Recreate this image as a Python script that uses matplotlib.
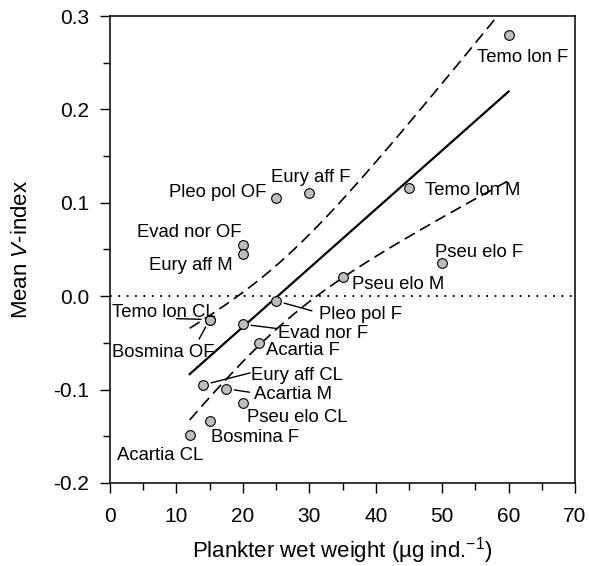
import numpy as np
import matplotlib
matplotlib.use("Agg")
import matplotlib.pyplot as plt
from matplotlib.ticker import MultipleLocator, FormatStrFormatter

plt.rcParams['font.family'] = ['Liberation Sans', 'DejaVu Sans']
plt.rcParams['mathtext.fontset'] = 'custom'
plt.rcParams['mathtext.rm'] = 'Liberation Sans'
plt.rcParams['mathtext.it'] = 'Liberation Sans:italic'
plt.rcParams['axes.unicode_minus'] = False

# ---- data ----
names = ["Temo lon F", "Temo lon M", "Eury aff F", "Pleo pol OF", "Evad nor OF",
         "Eury aff M", "Pseu elo F", "Pseu elo M", "Temo lon CL", "Bosmina OF",
         "Pleo pol F", "Evad nor F", "Acartia F", "Eury aff CL", "Acartia M",
         "Pseu elo CL", "Bosmina F", "Acartia CL"]
weight = [60, 45, 30, 25, 20, 20, 50, 35, 15, 15, 25, 20, 22.5, 14, 17.5, 20, 15, 12]
vindex = [0.280, 0.116, 0.111, 0.105, 0.055, 0.045, 0.036, 0.021, -0.025, -0.025,
          -0.005, -0.030, -0.050, -0.095, -0.099, -0.114, -0.134, -0.149]

xticks = [0, 10, 20, 30, 40, 50, 60, 70]
yticks = [-0.2, -0.1, 0.0, 0.1, 0.2, 0.3]
T_CRIT = 2.120  # Student t, 95 %, df = n - 2 = 16

# ---- label layout: text x, text y, ha, leader start (or None) ----
layout = {
    "Temo lon F":  (55.2, 0.258, 'left', None),
    "Temo lon M":  (47.4, 0.1153, 'left', None),
    "Eury aff F":  (30.2, 0.1296, 'center', None),
    "Pleo pol OF": (23.6, 0.1128, 'right', None),
    "Evad nor OF": (19.8, 0.0707, 'right', None),
    "Eury aff M":  (18.5, 0.035, 'right', None),
    "Pseu elo F":  (48.9, 0.049, 'left', None),
    "Pseu elo M":  (36.4, 0.0143, 'left', None),
    "Temo lon CL": (0.25, -0.015, 'left', (10.0, -0.024)),
    "Bosmina OF":  (0.25, -0.058, 'left', (13.4, -0.046)),
    "Pleo pol F":  (31.4, -0.0175, 'left', (30.4, -0.0157)),
    "Evad nor F":  (25.3, -0.0375, 'left', (25.1, -0.0346)),
    "Acartia F":   (23.5, -0.056, 'left', None),
    "Eury aff CL": (21.2, -0.0828, 'left', (21.1, -0.0821)),
    "Acartia M":   (21.7, -0.1035, 'left', (21.0, -0.1028)),
    "Pseu elo CL": (20.6, -0.128, 'left', None),
    "Bosmina F":   (15.2, -0.149, 'left', None),
    "Acartia CL":  (1.0, -0.168, 'left', None),
}

x = np.array(weight, dtype=float)
y = np.array(vindex, dtype=float)

fig = plt.figure(figsize=(5.89, 5.66), dpi=100)
ax = fig.add_axes([110/589, 1-483/566, 465/589, 467/566])

# regression and 95 % confidence band of the mean
slope, intercept = np.polyfit(x, y, 1)
n = len(x)
resid = y - (slope*x + intercept)
s = np.sqrt(np.sum(resid**2)/(n-2))
sxx = np.sum((x - x.mean())**2)
xs = np.linspace(x.min(), x.max(), 200)
yc = slope*xs + intercept
hw = T_CRIT*s*np.sqrt(1.0/n + (xs - x.mean())**2/sxx)

ax.axhline(0, color='black', lw=1.4, dashes=(0.9, 3.4), zorder=1)
ax.plot(xs, yc, color='black', lw=1.6, zorder=2)
ax.plot(xs, yc + hw, color='black', lw=1.2, dashes=(7, 3.6), zorder=2)
ax.plot(xs, yc - hw, color='black', lw=1.2, dashes=(7, 3.6), zorder=2)

ax.plot(x, y, 'o', ms=7, mfc='#bdbdbd', mec='black', mew=0.8, zorder=4)

for nm, px, py in zip(names, weight, vindex):
    tx, ty, ha, lead = layout[nm]
    ax.text(tx, ty, nm, ha=ha, va='center_baseline', fontsize=13.3, zorder=5)
    if lead is not None:
        ax.annotate('', xy=(px, py), xytext=lead,
                    arrowprops=dict(arrowstyle='-', color='black', lw=1.0,
                                    shrinkA=0, shrinkB=6), zorder=3)

ax.set_xlim(0, 70)
ax.set_ylim(-0.2, 0.3)
ax.set_xticks(xticks)
ax.set_yticks(yticks)
ax.xaxis.set_minor_locator(MultipleLocator(5))
ax.yaxis.set_minor_locator(MultipleLocator(0.05))
ax.yaxis.set_major_formatter(FormatStrFormatter('%.1f'))
ax.tick_params(which='major', direction='out', length=7, width=1.0, labelsize=15)
ax.tick_params(which='minor', direction='out', length=5, width=1.0)
ax.tick_params(axis='x', which='major', pad=10)
ax.tick_params(axis='y', which='major', pad=8)
ax.tick_params(top=False, right=False, which='both')
for sp in ax.spines.values():
    sp.set_linewidth(1.1)

ax.set_xlabel('Plankter wet weight (\u00b5g ind.$^{-1}$)', fontsize=16, labelpad=7)
ax.set_ylabel('Mean $V$-index', fontsize=16, labelpad=15)

fig.savefig('out.png', dpi=100)
